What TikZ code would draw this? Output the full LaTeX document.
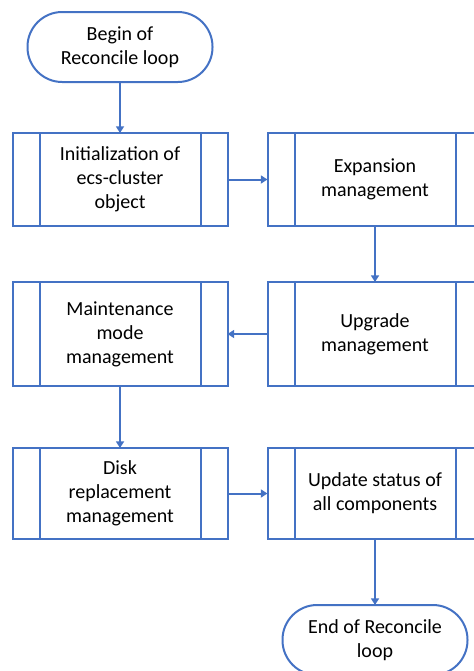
\documentclass[tikz,border=0pt]{standalone}
\usepackage{fontspec}
\setmainfont{Carlito}
\usetikzlibrary{arrows.meta}
\definecolor{flowblue}{HTML}{4472C4}
\tikzset{
  term/.style={draw=flowblue,line width=1.5pt,rounded corners=26pt,minimum width=138.75pt,minimum height=52.5pt,inner sep=0pt,outer sep=0pt,align=center,font=\fontsize{15}{18}\selectfont},
  proc/.style={draw=flowblue,line width=1.5pt,minimum width=161.25pt,inner sep=0pt,outer sep=0pt,align=center,font=\fontsize{15}{18}\selectfont},
  procline/.style={flowblue,line width=1.5pt},
  link/.style={flowblue,line width=1.5pt,-{Triangle[length=5pt,width=6pt]}}
}
\begin{document}
\begin{tikzpicture}[x=0.75pt,y=-0.75pt]
\useasboundingbox (0,0) rectangle (474,671);
\node[term] (begin) at (120,47) {Begin of\\Reconcile loop};
\node[proc,minimum height=69.75pt] (init) at (120,179.5) {Initialization of\\ecs-cluster\\object};
\node[proc,minimum height=69.75pt] (expand) at (375,179.5) {Expansion\\management};
\node[proc,minimum height=78pt] (upgrade) at (375,334) {Upgrade\\management};
\node[proc,minimum height=78pt] (maint) at (120,334) {Maintenance\\mode\\management};
\node[proc,minimum height=68.25pt] (disk) at (120,493.5) {Disk\\replacement\\management};
\node[proc,minimum height=68.25pt] (update) at (375,493.5) {Update status of\\all components};
\node[term] (end) at (375,640) {End of Reconcile\\loop};
% side bars of the process boxes
\foreach \n in {init,expand,upgrade,maint,disk,update}
  \draw[procline] ([xshift=20.25pt]\n.north west) -- ([xshift=20.25pt]\n.south west)
    ([xshift=-20.25pt]\n.north east) -- ([xshift=-20.25pt]\n.south east);
\draw[link] (begin) -- (init);
\draw[link] (init) -- (expand);
\draw[link] (expand) -- (upgrade);
\draw[link] (upgrade) -- (maint);
\draw[link] (maint) -- (disk);
\draw[link] (disk) -- (update);
\draw[link] (update) -- (end);
\end{tikzpicture}
\end{document}
